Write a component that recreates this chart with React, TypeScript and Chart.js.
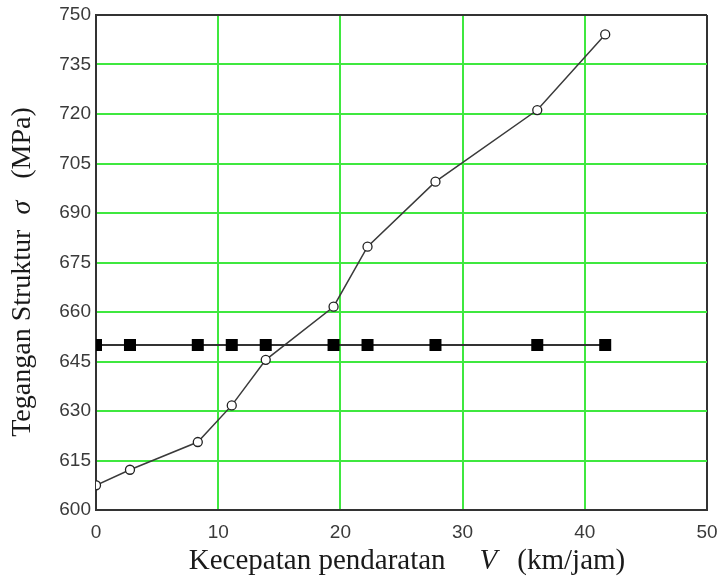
import React, { useEffect, useRef } from "react";
import { Chart, registerables } from "chart.js";

Chart.register(...registerables);

// Landing speed V (km/jam)
const speedKmh = [0, 2.78, 8.33, 11.11, 13.89, 19.44, 22.22, 27.78, 36.11, 41.67];
// Structural stress sigma (MPa)
const stressMPa = [607.5, 612.2, 620.6, 631.7, 645.5, 661.6, 679.8, 699.5, 721.2, 744.1];
// Allowable stress line (MPa)
const allowableMPa = [650, 650, 650, 650, 650, 650, 650, 650, 650, 650];

const xTickMin = 0;
const xTickMax = 50;
const xTickStep = 10;
const yTickMin = 600;
const yTickMax = 750;
const yTickStep = 15;

const xTitleParts = [
  { text: "Kecepatan pendaratan", italic: false, gap: 34 },
  { text: "V", italic: true, gap: 20 },
  { text: "(km/jam)", italic: false, gap: 0 },
];
const yTitleParts = [
  { text: "Tegangan Struktur", italic: false, gap: 15 },
  { text: "σ", italic: true, gap: 22 },
  { text: "(MPa)", italic: false, gap: 0 },
];

const GREEN = "#3fe83f";
const DARK = "#333333";

const titlesPlugin = {
  id: "mixedTitles",
  afterDraw(chart: any) {
    const ctx = chart.ctx as CanvasRenderingContext2D;
    const fam = '"Liberation Serif", "Times New Roman", serif';
    const drawParts = (parts: any[], size: number, cx: number, cy: number, rot: number) => {
      ctx.save();
      ctx.translate(cx, cy);
      ctx.rotate(rot);
      ctx.fillStyle = "#1a1a1a";
      ctx.textBaseline = "middle";
      ctx.textAlign = "left";
      let total = 0;
      const widths: number[] = [];
      parts.forEach((p, i) => {
        ctx.font = `${p.italic ? "italic " : ""}${size}px ${fam}`;
        const w = ctx.measureText(p.text).width;
        widths.push(w);
        total += w + (i < parts.length - 1 ? p.gap : 0);
      });
      let x = -total / 2;
      parts.forEach((p, i) => {
        ctx.font = `${p.italic ? "italic " : ""}${size}px ${fam}`;
        ctx.fillText(p.text, x, 0);
        x += widths[i] + p.gap;
      });
      ctx.restore();
    };
    drawParts(xTitleParts, 29, 407, 561, 0);
    drawParts(yTitleParts, 28, 23, 272, -Math.PI / 2);
  },
};

export default function App() {
  const ref = useRef<HTMLCanvasElement | null>(null);
  useEffect(() => {
    if (!ref.current) return;
    const tickFont = { family: '"Liberation Sans", Arial, sans-serif', size: 19 };
    const chart = new Chart(ref.current, {
      type: "line",
      data: {
        datasets: [
          {
            label: "Allowable",
            data: speedKmh.map((x, i) => ({ x, y: allowableMPa[i] })),
            borderColor: DARK,
            borderWidth: 2,
            pointStyle: "rect",
            pointRadius: 8.5,
            pointBackgroundColor: "#000",
            pointBorderColor: "#000",
            pointBorderWidth: 0,
            fill: false,
          },
          {
            label: "Stress",
            data: speedKmh.map((x, i) => ({ x, y: stressMPa[i] })),
            borderColor: "#3a3a3a",
            borderWidth: 1.5,
            pointStyle: "circle",
            pointRadius: 4.5,
            pointBackgroundColor: "#ffffff",
            pointBorderColor: "#222",
            pointBorderWidth: 1.3,
            fill: false,
            tension: 0,
          },
        ],
      },
      options: {
        animation: false,
        responsive: false,
        maintainAspectRatio: false,
        layout: { padding: { top: 15, right: 14, left: 0, bottom: 0 } },
        plugins: { legend: { display: false }, tooltip: { enabled: false } },
        scales: {
          x: {
            type: "linear",
            min: xTickMin,
            max: xTickMax,
            ticks: { stepSize: xTickStep, font: tickFont, color: "#3a3a3a", padding: 11, maxRotation: 0 },
            grid: {
              drawTicks: false,
              lineWidth: 2,
              color: (c: any) => (c.index === 0 ? "rgba(0,0,0,0)" : c.tick && c.tick.value === xTickMax ? DARK : GREEN),
            },
            border: { display: true, color: DARK, width: 2 },
            afterFit: (s: any) => {
              s.height = 76;
              s.paddingLeft = 0;
              s.paddingRight = 0;
            },
          },
          y: {
            type: "linear",
            min: yTickMin,
            max: yTickMax,
            ticks: { stepSize: yTickStep, font: tickFont, color: "#3a3a3a", padding: 5 },
            grid: {
              drawTicks: false,
              lineWidth: 2,
              color: (c: any) => (c.index === 0 ? "rgba(0,0,0,0)" : c.tick && c.tick.value === yTickMax ? DARK : GREEN),
            },
            border: { display: true, color: DARK, width: 2 },
            afterFit: (s: any) => {
              s.width = 96;
              s.paddingTop = 0;
              s.paddingBottom = 0;
            },
          },
        },
      },
      plugins: [titlesPlugin],
    } as any);
    return () => chart.destroy();
  }, []);
  return (
    <div style={{ position: "fixed", left: 0, top: 0, width: 721, height: 586, background: "#fff" }}>
      <canvas ref={ref} width={721} height={586} style={{ width: 721, height: 586, display: "block" }} />
    </div>
  );
}
